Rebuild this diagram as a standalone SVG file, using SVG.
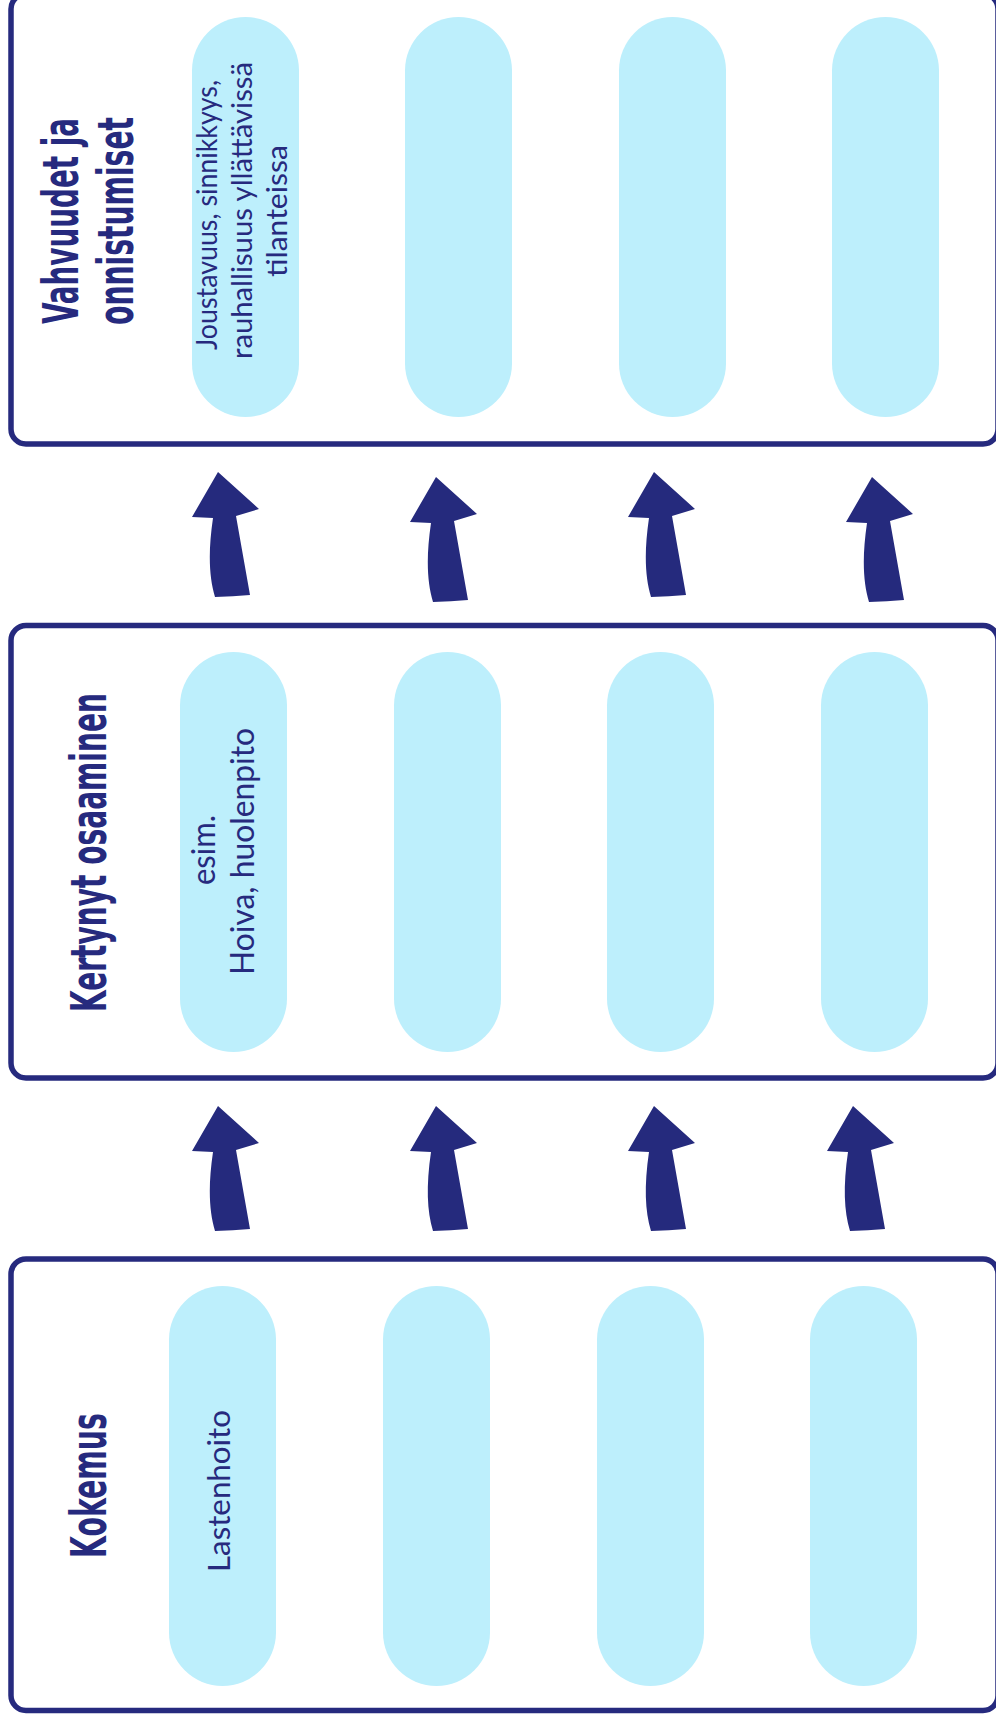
<svg xmlns="http://www.w3.org/2000/svg" width="996" height="1722" viewBox="0 0 996 1722">
<style>
.box{fill:#ffffff;stroke:#262a7e;stroke-width:5.5}
.pill{fill:#bdeffc}
.title{font-family:"Liberation Sans Narrow","DejaVu Sans Condensed","Liberation Sans",sans-serif;font-weight:bold;font-size:30px;fill:#262a7e}
.body{font-family:Lato,"Noto Sans","DejaVu Sans",sans-serif;font-weight:normal;fill:#262a7e}
.arrow{fill:#252a7d}
</style>
<defs>
<path id="arr" class="arrow" d="M0,0 L41,37 L18,44 L32,123 Q15,124.5 -3,125 C-9,105 -10,80 -5,46 L-26,45 Z"/>
</defs>
<rect width="996" height="1722" fill="#ffffff"/>

<g id="box-vahvuudet">
<rect class="box" x="11" y="-6" width="987" height="450" rx="15"/>
<text class="title" transform="translate(78,220) rotate(-90) scale(1,1.667)" text-anchor="middle" x="-1" textLength="206" lengthAdjust="spacingAndGlyphs">Vahvuudet ja</text>
<text class="title" transform="translate(133,220) rotate(-90) scale(1,1.667)" text-anchor="middle" x="-1" textLength="208" lengthAdjust="spacingAndGlyphs">onnistumiset</text>
<g id="v1"><rect class="pill" x="192" y="17" width="107" height="400" rx="53.5"/>
<text class="body" font-size="29" transform="translate(217,350) rotate(-90)" textLength="270" lengthAdjust="spacingAndGlyphs">Joustavuus, sinnikkyys,</text>
<text class="body" font-size="29" transform="translate(252,359) rotate(-90)" textLength="297" lengthAdjust="spacingAndGlyphs">rauhallisuus yllättävissä</text>
<text class="body" font-size="29" transform="translate(287,277) rotate(-90)" textLength="132" lengthAdjust="spacingAndGlyphs">tilanteissa</text></g>
<rect id="v2" class="pill" x="405" y="17" width="107" height="400" rx="53.5"/>
<rect id="v3" class="pill" x="619" y="17" width="107" height="400" rx="53.5"/>
<rect id="v4" class="pill" x="832" y="17" width="107" height="400" rx="53.5"/>
</g>

<g id="box-osaaminen">
<rect class="box" x="11" y="625.5" width="987" height="452.5" rx="15"/>
<text class="title" transform="translate(106,1012) rotate(-90) scale(1,1.667)" textLength="319" lengthAdjust="spacingAndGlyphs">Kertynyt osaaminen</text>
<g id="o1"><rect class="pill" x="180" y="652" width="107" height="400" rx="53.5"/>
<text class="body" font-size="32" transform="translate(215,885) rotate(-90)" textLength="70" lengthAdjust="spacingAndGlyphs">esim.</text>
<text class="body" font-size="32" transform="translate(254,975) rotate(-90)" textLength="247" lengthAdjust="spacingAndGlyphs">Hoiva, huolenpito</text></g>
<rect id="o2" class="pill" x="394" y="652" width="107" height="400" rx="53.5"/>
<rect id="o3" class="pill" x="607" y="652" width="107" height="400" rx="53.5"/>
<rect id="o4" class="pill" x="821" y="652" width="107" height="400" rx="53.5"/>
</g>

<g id="box-kokemus">
<rect class="box" x="11" y="1259" width="987" height="451.5" rx="15"/>
<text class="title" transform="translate(106,1558) rotate(-90) scale(1,1.667)" textLength="145" lengthAdjust="spacingAndGlyphs">Kokemus</text>
<g id="k1"><rect class="pill" x="169" y="1286" width="107" height="400" rx="53.5"/>
<text class="body" font-size="30" transform="translate(230,1572) rotate(-90)" textLength="162" lengthAdjust="spacingAndGlyphs">Lastenhoito</text></g>
<rect id="k2" class="pill" x="383" y="1286" width="107" height="400" rx="53.5"/>
<rect id="k3" class="pill" x="597" y="1286" width="107" height="400" rx="53.5"/>
<rect id="k4" class="pill" x="810" y="1286" width="107" height="400" rx="53.5"/>
</g>

<g id="connectors">
<use href="#arr" transform="translate(218,472)"/>
<use href="#arr" transform="translate(436,477)"/>
<use href="#arr" transform="translate(654,472)"/>
<use href="#arr" transform="translate(872,477)"/>
<use href="#arr" transform="translate(218,1106)"/>
<use href="#arr" transform="translate(436,1106)"/>
<use href="#arr" transform="translate(654,1106)"/>
<use href="#arr" transform="translate(853,1106)"/>
</g>
</svg>
